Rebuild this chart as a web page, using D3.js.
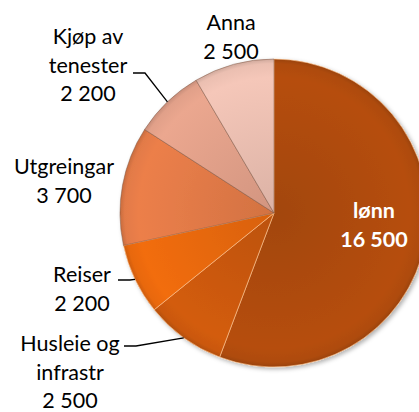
<!DOCTYPE html>
<html>
<head>
<meta charset="utf-8">
<script src="https://cdn.jsdelivr.net/npm/d3@7"></script>
<style>
body { margin: 0; background: #fff; }
svg { display: block; }
text { font-family: Lato, "Open Sans", sans-serif; font-size: 21.5px; fill: #000; }
</style>
</head>
<body>
<div id="chart"></div>
<script>
// data
const categories = ["lønn", "Husleie og\ninfrastr", "Reiser", "Utgreingar", "Kjøp av\ntenester", "Anna"];
const values = [16500, 2500, 2200, 3700, 2200, 2500];

// style / layout
const sliceColors = ["#ae4b0b", "#ca580e", "#e8680f", "#e27a47", "#e1a089", "#ebbfb1"];
const labelPos = [
    {x: 374, y: 218, inside: true},
    {x: 70, y: 351, leader: [124, 346]},
    {x: 82, y: 282, leader: [118, 280]},
    {x: 64, y: 174},
    {x: 88, y: 44, leader: [133, 73]},
    {x: 231, y: 30}
];

function main() {
    const width = 419, height = 412;
    const cx = 274, cy = 213, radius = 154;
    const lineH = 28.5;

    const fmt = d3.formatLocale({decimal: ",", thousands: " ", grouping: [3], currency: ["", ""]}).format(",");

    const svg = d3.select("#chart")
        .append("svg")
        .attr("width", width)
        .attr("height", height);

    const defs = svg.append("defs");
    defs.append("filter")
        .attr("id", "shadow")
        .attr("x", "-10%").attr("y", "-10%")
        .attr("width", "130%").attr("height", "130%")
        .append("feDropShadow")
        .attr("dx", 2).attr("dy", 2)
        .attr("stdDeviation", 2)
        .attr("flood-color", "#000")
        .attr("flood-opacity", 0.3);

    sliceColors.forEach(function(c, i) {
        const g = defs.append("radialGradient")
            .attr("id", "grad" + i)
            .attr("gradientUnits", "userSpaceOnUse")
            .attr("cx", 0).attr("cy", 0).attr("r", radius);
        g.append("stop").attr("offset", "0%").attr("stop-color", d3.color(c).darker(0.2));
        g.append("stop").attr("offset", "88%").attr("stop-color", d3.color(c).brighter(0.12));
        g.append("stop").attr("offset", "97%").attr("stop-color", c);
        g.append("stop").attr("offset", "100%").attr("stop-color", d3.color(c).darker(0.35));
    });

    const pie = d3.pie().sort(null).value(function(d) { return d; });
    const arcs = pie(values);

    const arc = d3.arc().innerRadius(0).outerRadius(radius);
    const edge = d3.arc().innerRadius(radius).outerRadius(radius);

    const g = svg.append("g")
        .attr("transform", `translate(${cx}, ${cy})`);

    g.append("g")
        .attr("filter", "url(#shadow)")
        .selectAll(".slice")
        .data(arcs)
        .enter()
        .append("path")
        .attr("class", "slice")
        .attr("d", arc)
        .style("fill", function(d, i) { return `url(#grad${i})`; })
        .style("stroke", function(d, i) { return i < 3 ? "rgba(255,200,150,0.6)" : "rgba(120,80,60,0.45)"; })
        .style("stroke-width", 1);

    // leader lines
    arcs.forEach(function(d, i) {
        const p = labelPos[i];
        if (!p.leader) return;
        const e = edge.centroid(d);
        const pts = [
            [p.leader[0] - cx, p.leader[1] - cy],
            [p.leader[0] + 12 - cx, p.leader[1] - cy],
            e
        ];
        g.append("path")
            .attr("d", d3.line()(pts))
            .style("fill", "none")
            .style("stroke", "#000")
            .style("stroke-width", 1.3);
    });

    // labels
    arcs.forEach(function(d, i) {
        const p = labelPos[i];
        const lines = categories[i].split("\n").concat([fmt(values[i])]);
        const t = svg.append("text")
            .attr("text-anchor", "middle")
            .style("fill", p.inside ? "#fff" : "#000")
            .style("font-weight", p.inside ? "bold" : "normal");
        lines.forEach(function(s, j) {
            t.append("tspan")
                .attr("x", p.x)
                .attr("y", p.y + j * lineH)
                .text(s);
        });
    });
}

main();
</script>
</body>
</html>
